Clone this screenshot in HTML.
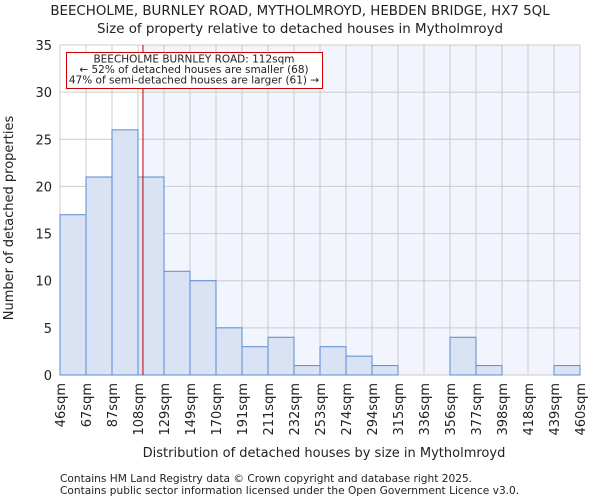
<!DOCTYPE html>
<html><head><meta charset="utf-8"><style>
body{margin:0;background:#fff;font-family:"DejaVu Sans","Liberation Sans",sans-serif}
svg text{font-family:"DejaVu Sans","Liberation Sans",sans-serif;fill:#222}
</style></head><body>
<svg id="c" width="600" height="500" xmlns="http://www.w3.org/2000/svg">
<text x="300" y="15" text-anchor="middle" font-size="13.4">BEECHOLME, BURNLEY ROAD, MYTHOLMROYD, HEBDEN BRIDGE, HX7 5QL</text>
<text x="300" y="33" text-anchor="middle" font-size="13.4">Size of property relative to detached houses in Mytholmroyd</text>
<g id="plot"></g>
<text x="324" y="457" text-anchor="middle" font-size="13">Distribution of detached houses by size in Mytholmroyd</text>
<text transform="translate(13,218) rotate(-90)" text-anchor="middle" font-size="13">Number of detached properties</text>
<text x="60" y="482" font-size="10.6">Contains HM Land Registry data © Crown copyright and database right 2025.</text>
<text x="60" y="494" font-size="10.6">Contains public sector information licensed under the Open Government Licence v3.0.</text>
</svg>
<script>
const tickLabels=["46sqm","67sqm","87sqm","108sqm","129sqm","149sqm","170sqm","191sqm","211sqm","232sqm","253sqm","274sqm","294sqm","315sqm","336sqm","356sqm","377sqm","398sqm","418sqm","439sqm","460sqm"];
const counts=[17,21,26,21,11,10,5,3,4,1,3,2,1,0,0,4,1,0,0,1];
const yTicks=[0,5,10,15,20,25,30,35];
const markerBin=3+4/21;
const NS="http://www.w3.org/2000/svg";
const L=60,R=580,T=45,B=375,yMax=35;
const bw=(R-L)/counts.length;
const x=i=>L+i*bw;
const y=v=>B-(v/yMax)*(B-T);
const g=document.getElementById('plot');
function mk(t,a){const e=document.createElementNS(NS,t);for(const k in a)e.setAttribute(k,a[k]);g.appendChild(e);return e;}
const mx=x(markerBin);
let e=mk('rect',{x:mx,y:T,width:R-mx,height:B-T,fill:'#f2f5fd'});


for(let i=0;i<=counts.length;i++){e=mk('line',{x1:x(i),x2:x(i),y1:T,y2:B,stroke:'#ccc','stroke-width':1});

}
yTicks.forEach(v=>{e=mk('line',{x1:L,x2:R,y1:y(v),y2:y(v),stroke:'#ccc','stroke-width':1});


e=mk('text',{x:L-8,y:y(v)+5,'text-anchor':'end','font-size':13});e.textContent=v;

});
counts.forEach((v,i)=>{e=mk('rect',{x:x(i),y:y(v),width:bw,height:B-y(v),fill:'#dae3f4',stroke:'#5a8ad4','stroke-width':1});

});
tickLabels.forEach((t,i)=>{e=mk('text',{transform:`translate(${x(i)+5},383) rotate(-90)`,'text-anchor':'end','font-size':13});e.textContent=t;

});
e=mk('line',{x1:mx,x2:mx,y1:T,y2:B,stroke:'#b00','stroke-width':1});


e=mk('rect',{x:66.5,y:52.5,width:256,height:36,fill:'#fff',stroke:'#c00','stroke-width':1});


["BEECHOLME BURNLEY ROAD: 112sqm","← 52% of detached houses are smaller (68)","47% of semi-detached houses are larger (61) →"].forEach((t,i)=>{
e=mk('text',{x:194,y:62.5+i*10.5,'text-anchor':'middle','font-size':10.5});e.textContent=t;

});
</script>
</body></html>
